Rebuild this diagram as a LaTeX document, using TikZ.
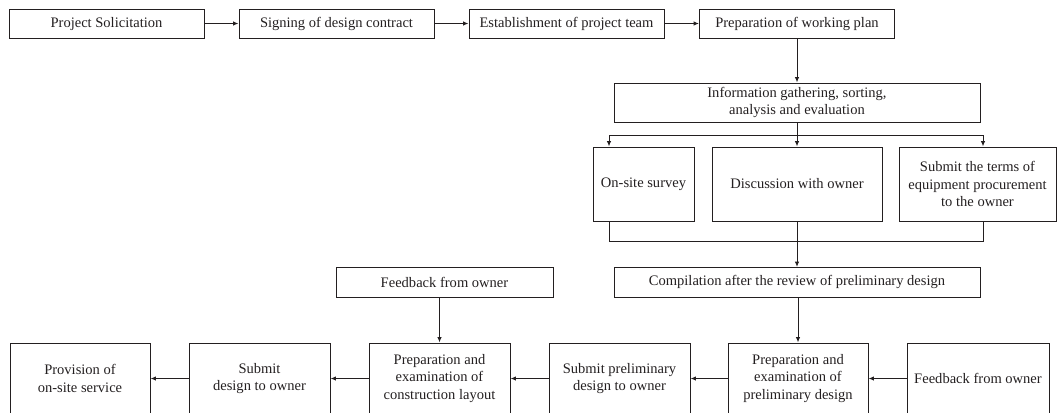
\documentclass[tikz,border=0pt]{standalone}
\usepackage{fontspec}
\setmainfont{Liberation Serif}
\usetikzlibrary{arrows.meta}
\definecolor{ink}{HTML}{231F20}
\newcommand\flowbox[6]{\node[box, minimum width={(#4-#2)*0.75pt}, minimum height={(#5-#3)*0.75pt}] (#1) at ({(#2+#4)/2},{(#3+#5)/2}) {#6};}
\begin{document}
\begin{tikzpicture}[x=0.75pt,y=-0.75pt,
  box/.style={draw=ink, line width=0.7pt, align=center, inner sep=0pt, text=ink, font=\fontsize{10.9}{13.1}\selectfont},
  conn/.style={draw=ink, line width=0.7pt},
  arr/.style={conn, -{Latex[length=4pt,width=3.2pt]}}]
\clip (0,0) rectangle (1061,412);
% top row
\flowbox{A}{9}{9}{204}{38}{Project Solicitation}
\flowbox{B}{239}{9}{434}{38}{Signing of design contract}
\flowbox{C}{469}{9}{664}{38}{Establishment of project team}
\flowbox{D}{699.5}{9}{894.5}{38}{Preparation of working plan}
% information
\flowbox{E}{614}{83}{980}{122}{Information gathering, sorting,\\analysis and evaluation}
% middle row
\flowbox{F}{593}{147}{694}{221}{On-site survey}
\flowbox{G}{712}{147}{882}{221}{Discussion with owner}
\flowbox{H}{899}{147}{1056}{221}{Submit the terms of\\equipment procurement\\to the owner}
% compilation and feedback
\flowbox{I}{614}{267.5}{980}{297}{Compilation after the review of preliminary design}
\flowbox{J}{336}{267.5}{553}{297}{Feedback from owner}
% bottom row
\flowbox{P}{10}{343}{150}{414}{Provision of\\on-site service}
\flowbox{Q}{189}{343}{330}{414}{Submit\\design to owner}
\flowbox{K}{369}{343}{510}{414}{Preparation and\\examination of\\construction layout}
\flowbox{L}{549}{343}{690}{414}{Submit preliminary\\design to owner}
\flowbox{M}{728}{343}{868}{414}{Preparation and\\examination of\\preliminary design}
\flowbox{N}{907}{343}{1049}{414}{Feedback from owner}
% coordinates
\coordinate (bl) at (609,135);
\coordinate (bc) at (797,135);
\coordinate (br) at (983,135);
\coordinate (ml) at (609,241);
\coordinate (mr) at (983,241);
% connectors
\draw[arr] (A) -- (B);
\draw[arr] (B) -- (C);
\draw[arr] (C) -- (D);
\draw[arr] (D.south) -- (E.north);
\draw[conn] (E.south) -- (bc);
\draw[conn] (bl) -- (br);
\draw[arr] (bl) -- (bl |- F.north);
\draw[arr] (bc) -- (G.north);
\draw[arr] (br) -- (br |- H.north);
\draw[conn] (ml |- F.south) -- (ml) -- (mr) -- (mr |- H.south);
\draw[arr] (G.south) -- (I.north);
\draw[arr] (I.south -| M.north) -- (M.north);
\draw[arr] (J.south -| K.north) -- (K.north);
\draw[arr] (N) -- (M);
\draw[arr] (M) -- (L);
\draw[arr] (L) -- (K);
\draw[arr] (K) -- (Q);
\draw[arr] (Q) -- (P);
\end{tikzpicture}
\end{document}
